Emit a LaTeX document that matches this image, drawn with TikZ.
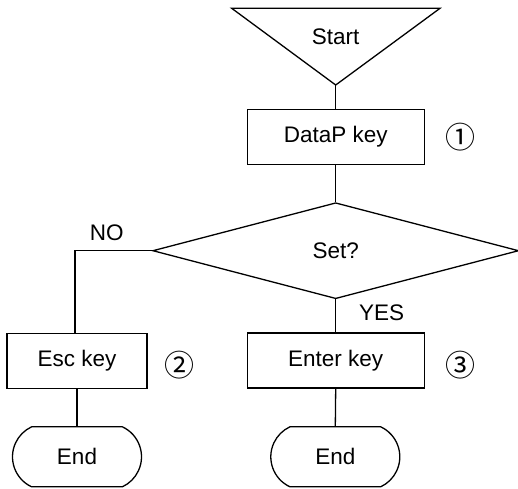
\documentclass[tikz,border=0pt]{standalone}
\usepackage{fontspec}
\setmainfont{Liberation Sans}
\newfontfamily\circfont{Noto Sans CJK JP}
\usetikzlibrary{shapes.geometric, shapes.misc}
\tikzset{procbox/.style={draw, rectangle, minimum width=177pt, minimum height=55pt, inner sep=0pt},
  termend/.style={draw, rounded rectangle, rounded rectangle arc length=130, minimum width=129pt, minimum height=60pt, inner sep=0pt},
  decision/.style={draw, diamond, aspect=3.8, minimum width=366pt, minimum height=96pt, inner sep=0pt},
  stepnum/.style={inner sep=0pt, font=\circfont\fontsize{30}{34}\selectfont}}
\begin{document}
\begin{tikzpicture}[x=1pt, y=-1pt, line width=1.3pt, font=\fontsize{22.5}{27}\selectfont]
\useasboundingbox (0,0) rectangle (518,488);
% start (inverted triangle)
\coordinate (stl) at (231.7,8.3); \coordinate (str) at (440,8.3); \coordinate (st) at (335.7,85);
\draw (stl) -- (str) -- (st) -- cycle; \node (start) at (335.7,37) {Start};
% step 1
\node[procbox] (datap) at (335.7,136.7) {DataP key}; \node[stepnum] (n1) at (460.7,136.7) {①};
\draw (st) -- (datap.north);
% decision
\node[decision] (set) at (335.7,250.7) {Set?};
\draw (datap.south) -- (set.north);
\coordinate (nocorner) at (75,250.7);
\node (no) at (106.7,232.7) {NO}; \node (yes) at (381.7,313) {YES};
% NO branch
\node[procbox, minimum width=140pt] (esc) at (77,360.8) {Esc key}; \node[stepnum] (n2) at (179,365) {②};
\node[termend] (endl) at (77,456.8) {End};
\draw (set.west) -- (nocorner) -- (nocorner |- esc.north);
\draw (esc.south) -- (endl.north);
% YES branch
\node[procbox] (enter) at (335.7,360.5) {Enter key}; \node[stepnum] (n3) at (460,365) {③};
\node[termend] (endr) at (335.3,456.8) {End};
\draw (set.south) -- (enter.north);
\draw (enter.south) -- (endr.north);
\end{tikzpicture}
\end{document}
